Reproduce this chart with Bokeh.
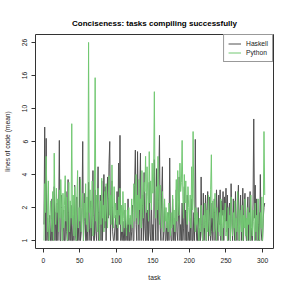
import numpy as np
from bokeh.plotting import figure
from bokeh.models import Range1d, FixedTicker, Legend, LegendItem
from bokeh.embed import file_html
from bokeh.resources import INLINE

# ---- data -------------------------------------------------------------
tasks = list(range(1, 304))

haskell = [
    1.4, 7.5, 1, 6.3, 1, 1.6, 1, 1.3, 1.7, 1,
    1, 2.4, 1, 1.2, 3.1, 1, 1.8, 1, 2.2, 1,
    1.5, 6.1, 1, 1, 2.6, 1.3, 1, 1.9, 1, 1,
    2.8, 1.2, 1, 3.6, 1, 1.4, 1, 2.1, 1, 1,
    1.7, 1, 3.2, 1.1, 1, 2.5, 1, 1.3, 1, 3.8,
    1, 1.2, 2.0, 6.0, 1, 1.5, 2.7, 1, 1, 1.8,
    1, 3.4, 1.3, 1, 2.3, 1, 1.6, 4.2, 1, 1,
    2.9, 1.2, 1, 1.8, 4.4, 1, 1.4, 2.6, 1, 3.5,
    1, 1.9, 4.0, 1.3, 3.1, 1, 2.4, 3.8, 1.6, 4.6,
    6.0, 1, 2.2, 3.5, 1.2, 1, 1, 1.3, 1.7, 1,
    2.8, 1, 4.6, 1.4, 6.6, 1, 1.2, 1, 1.5, 1,
    1, 1.9, 1, 1.3, 1, 2.4, 1, 1, 1.6, 1,
    1.2, 2.1, 1, 1, 3.2, 5.4, 1.4, 1, 5.3, 1.8,
    1, 3.0, 5.2, 1, 1.5, 2.6, 1, 4.1, 1.3, 1,
    2.7, 1, 1.9, 1, 3.4, 1.2, 1, 2.2, 1, 1.4,
    1, 4.8, 1.6, 1, 4.3, 2.1, 1, 3.6, 6.6, 1.3,
    1, 2.6, 4.4, 1, 1.2, 2.0, 1, 1, 1.5, 1,
    1.8, 1, 4.9, 1.3, 1, 1, 2.4, 1, 1.6, 1,
    1, 2.9, 1.2, 1, 1.7, 3.8, 1, 1.4, 1, 2.2,
    1, 1.3, 3.1, 1, 1.9, 1, 2.6, 1, 1.2, 1,
    1.6, 1, 2.4, 1, 1, 1.8, 1, 6.2, 1.5, 1,
    1, 2.0, 1, 1.3, 1, 3.8, 1.2, 1, 2.7, 1,
    1.4, 2.6, 1, 1.9, 2.8, 1, 1.5, 2.5, 1, 1.2,
    2.2, 1, 1.6, 2.4, 1, 1.3, 2.9, 1.8, 1, 2.6,
    1.4, 2.9, 1, 2.3, 1.7, 2.8, 1, 2.5, 1.5, 3.0,
    1.2, 2.6, 1, 1.9, 2.2, 1, 3.3, 1.6, 1, 2.4,
    1.3, 1, 2.8, 1.5, 1, 2.1, 3.2, 1, 1.7, 2.6,
    1, 1.4, 3.0, 1, 2.2, 2.7, 1.2, 1, 1.9, 2.5,
    1, 1.5, 2.8, 1, 1.3, 1, 2.2, 8.5, 1.6, 3.2,
    1, 2.4, 1.2, 1, 1.8, 1, 4.0, 1.3, 1, 1,
    1.6, 2.0, 2.2,
]

python = [
    1, 3.3, 1.8, 5.0, 2.6, 1.2, 3.5, 1, 1.5, 2.3,
    1.6, 1.2, 2.8, 1, 5.2, 2.2, 1.4, 3.0, 1.8, 2.4,
    1.2, 2.9, 1.6, 3.6, 2.0, 1, 2.7, 1.3, 2.1, 3.9,
    1.5, 2.5, 1, 1.8, 3.4, 1.2, 2.3, 1.6, 7.9, 1.4,
    2.6, 1.1, 3.1, 1.9, 1, 2.4, 4.2, 1.3, 2.0, 1.5,
    3.6, 1.2, 1.8, 2.7, 1, 2.2, 1.6, 3.3, 1.4, 2.5,
    1.2, 26, 1.8, 2.9, 1.3, 2.0, 3.5, 1.1, 1.7, 2.4,
    15.5, 1.5, 2.6, 1.2, 3.0, 1.8, 1, 2.3, 1.4, 3.7,
    1.6, 2.1, 1.2, 2.8, 1.5, 3.3, 1.9, 1.3, 2.4, 3.9,
    1.7, 2.6, 1.4, 4.5, 2.0, 1.3, 3.1, 1.6, 2.2, 1.4,
    1.9, 1.3, 2.5, 1.7, 3.0, 1.4, 2.1, 1.2, 2.8, 1.6,
    1.3, 2.2, 1.5, 1.1, 1.9, 1.4, 2.0, 1.2, 1.7, 1.4,
    2.4, 1.3, 1.8, 3.3, 1.5, 2.2, 4.0, 1.6, 2.6, 1.4,
    3.6, 1.9, 2.4, 1.3, 4.2, 2.1, 1.6, 3.4, 2.8, 5.0,
    1.8, 4.4, 2.5, 1.5, 5.3, 2.2, 3.5, 1.9, 4.6, 2.7,
    3.8, 12.7, 2.4, 1.6, 3.1, 1.9, 5.0, 2.3, 1.4, 3.2,
    2.0, 1.3, 2.8, 1.7, 1.2, 2.4, 1.5, 2.0, 1.3, 1.8,
    1.2, 2.2, 1.5, 1.1, 1.8, 1.3, 2.6, 1.4, 1.9, 1.2,
    2.0, 3.6, 1.5, 4.2, 2.3, 1.7, 4.6, 2.8, 3.4, 6.1,
    2.5, 1.6, 4.0, 2.2, 3.5, 1.8, 1.4, 3.1, 2.0, 1.5,
    2.6, 1.3, 4.4, 1.9, 7.0, 2.4, 1.6, 1.2, 2.0, 1.4,
    1.8, 1.3, 1, 1.6, 1.2, 2.1, 1.4, 1, 1.7, 1.3,
    2.2, 1.5, 1, 1.9, 1.2, 2.6, 1.4, 1.1, 2.9, 5.1,
    1.6, 2.3, 1.2, 1.8, 2.7, 1.3, 1, 2.0, 1.5, 1.2,
    1.8, 1.1, 2.4, 1.4, 1, 1.9, 1.3, 1.6, 2.2, 1.1,
    1.5, 1, 2.0, 1.3, 1.7, 1, 2.5, 1.4, 1.1, 1.8,
    1.3, 2.3, 1, 1.6, 1.2, 2.8, 1.4, 1, 1.9, 1.5,
    1.2, 2.1, 1, 1.7, 1.3, 2.4, 1.1, 1.6, 1, 2.0,
    1.4, 1.8, 1, 2.6, 1.3, 1.1, 1.9, 1.5, 1, 2.2,
    1.2, 1.7, 1, 2.4, 1.4, 1, 1.8, 1.3, 2.5, 1,
    1.6, 7.0, 2.6,
]

y_tick_values = [1, 2, 4, 6, 10, 16, 26]
x_tick_values = [0, 50, 100, 150, 200, 250, 300]

# ---- scale: the y axis places its labelled values at equal steps ------
def to_pos(v):
    return np.interp(np.log(np.asarray(v, dtype=float)),
                     np.log(y_tick_values), np.arange(len(y_tick_values)))

FONT = "Liberation Sans"

p = figure(width=275, height=283, output_backend="svg", toolbar_location=None,
           x_range=Range1d(-10.6, 315), y_range=Range1d(-0.24, 6.24),
           min_border_left=34, min_border_right=2, min_border_top=34,
           min_border_bottom=35,
           title="Conciseness: tasks compiling successfully")

p.title.align = "center"
p.title.text_font = FONT
p.title.text_font_size = "8px"
p.title.text_font_style = "bold"
p.title.text_color = "black"
p.title.standoff = 14

p.xgrid.visible = False
p.ygrid.visible = False
p.outline_line_color = "#333333"
p.outline_line_width = 1
p.background_fill_color = "white"
p.border_fill_color = "white"

rh = p.line(tasks, to_pos(haskell), line_color="#505050", line_width=1)
rp = p.line(tasks, to_pos(python), line_color="#72C872", line_width=1)

for ax in (p.xaxis[0], p.yaxis[0]):
    ax.axis_line_color = None
    ax.major_tick_out = 4
    ax.major_tick_in = 0
    ax.minor_tick_line_color = None
    ax.major_tick_line_color = "#333333"
    ax.major_label_text_font = FONT
    ax.major_label_text_font_size = "6.7px"
    ax.major_label_text_color = "#222222"
    ax.axis_label_text_font = FONT
    ax.axis_label_text_font_size = "6.7px"
    ax.axis_label_text_font_style = "normal"
    ax.axis_label_text_color = "#222222"

p.xaxis[0].ticker = FixedTicker(ticks=x_tick_values)
p.xaxis[0].axis_label = "task"
p.xaxis[0].major_label_standoff = 5
p.xaxis[0].axis_label_standoff = 8

p.yaxis[0].ticker = FixedTicker(ticks=list(range(len(y_tick_values))))
p.yaxis[0].major_label_overrides = {i: str(v) for i, v in enumerate(y_tick_values)}
p.yaxis[0].major_label_orientation = "parallel"
p.yaxis[0].axis_label = "lines of code (mean)"
p.yaxis[0].major_label_standoff = 4
p.yaxis[0].axis_label_standoff = 9

legend = Legend(items=[LegendItem(label="Haskell", renderers=[rh]),
                       LegendItem(label="Python", renderers=[rp])],
                location="top_right")
legend.margin = 0
legend.padding = 4
legend.spacing = 0
legend.glyph_width = 13
legend.glyph_height = 9
legend.label_text_font = FONT
legend.label_text_font_size = "6.7px"
legend.label_text_color = "#222222"
legend.label_standoff = 5
legend.label_height = 9
legend.border_line_color = "#333333"
legend.border_line_width = 1
legend.background_fill_alpha = 1
p.add_layout(legend)

open("out.html", "w").write(file_html(p, INLINE))
